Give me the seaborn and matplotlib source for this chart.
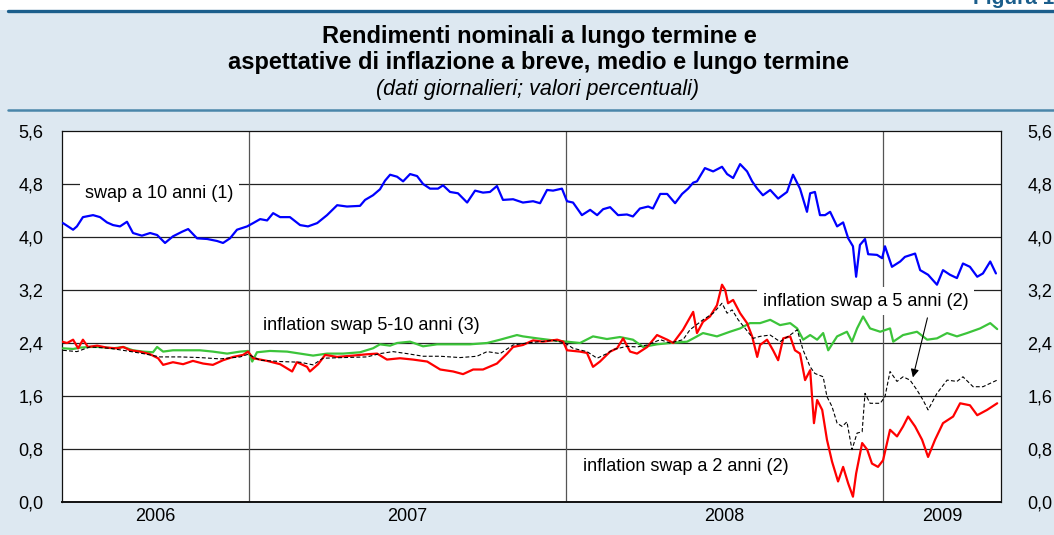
import matplotlib
matplotlib.use('Agg')
import matplotlib.pyplot as plt
from matplotlib.lines import Line2D
from matplotlib.patches import Rectangle
import numpy as np
import pandas as pd
import seaborn as sns

sns.set_style('white')
plt.rcParams['font.family'] = ['Liberation Sans', 'DejaVu Sans']
plt.rcParams['text.color'] = 'black'
plt.rcParams['xtick.color'] = 'black'
plt.rcParams['ytick.color'] = 'black'

# time expressed as decimal year, values in percent
t_swap10 = [2006.413, 2006.445, 2006.457, 2006.476, 2006.508, 2006.530, 2006.552, 2006.571, 2006.593, 2006.615,
            2006.634, 2006.662, 2006.688, 2006.710, 2006.735, 2006.760, 2006.789, 2006.808, 2006.836, 2006.868,
            2006.899, 2006.918, 2006.940, 2006.962, 2006.994, 2007.013, 2007.035, 2007.057, 2007.076, 2007.098,
            2007.129, 2007.161, 2007.186, 2007.215, 2007.246, 2007.278, 2007.309, 2007.350, 2007.366, 2007.391,
            2007.413, 2007.429, 2007.445, 2007.467, 2007.486, 2007.508, 2007.530, 2007.549, 2007.571, 2007.596,
            2007.612, 2007.634, 2007.659, 2007.688, 2007.713, 2007.738, 2007.760, 2007.782, 2007.801, 2007.833,
            2007.864, 2007.896, 2007.918, 2007.940, 2007.959, 2007.987, 2008.003, 2008.022, 2008.050, 2008.076,
            2008.098, 2008.117, 2008.139, 2008.164, 2008.192, 2008.211, 2008.233, 2008.259, 2008.274, 2008.297,
            2008.319, 2008.344, 2008.366, 2008.385, 2008.401, 2008.413, 2008.438, 2008.464, 2008.492, 2008.508,
            2008.527, 2008.549, 2008.571, 2008.587, 2008.603, 2008.621, 2008.644, 2008.669, 2008.697, 2008.716,
            2008.738, 2008.760, 2008.770, 2008.785, 2008.801, 2008.817, 2008.833, 2008.855, 2008.874, 2008.890,
            2008.905, 2008.915, 2008.927, 2008.943, 2008.953, 2008.981, 2008.997, 2009.006, 2009.028, 2009.054,
            2009.069, 2009.101, 2009.117, 2009.142, 2009.170, 2009.189, 2009.211, 2009.233, 2009.252, 2009.274,
            2009.297, 2009.315, 2009.338, 2009.356]
swap10 = [4.21, 4.11, 4.16, 4.30, 4.33, 4.30, 4.22, 4.18, 4.16, 4.23,
          4.06, 4.02, 4.06, 4.03, 3.91, 4.01, 4.08, 4.12, 3.98, 3.97,
          3.94, 3.91, 3.98, 4.11, 4.16, 4.21, 4.27, 4.25, 4.36, 4.30,
          4.30, 4.18, 4.16, 4.21, 4.33, 4.48, 4.46, 4.47, 4.56, 4.63,
          4.72, 4.85, 4.94, 4.91, 4.84, 4.95, 4.92, 4.80, 4.73, 4.73,
          4.78, 4.68, 4.66, 4.52, 4.70, 4.67, 4.68, 4.77, 4.56, 4.57,
          4.52, 4.54, 4.51, 4.71, 4.70, 4.73, 4.54, 4.52, 4.33, 4.41,
          4.33, 4.42, 4.45, 4.33, 4.34, 4.31, 4.43, 4.46, 4.43, 4.65,
          4.65, 4.51, 4.65, 4.73, 4.82, 4.84, 5.04, 4.99, 5.06, 4.95,
          4.89, 5.10, 4.99, 4.84, 4.73, 4.63, 4.71, 4.58, 4.68, 4.94,
          4.73, 4.38, 4.66, 4.68, 4.33, 4.33, 4.38, 4.16, 4.22, 3.98,
          3.86, 3.40, 3.88, 3.97, 3.74, 3.73, 3.68, 3.86, 3.55, 3.63,
          3.70, 3.75, 3.50, 3.43, 3.28, 3.50, 3.43, 3.38, 3.60, 3.55,
          3.40, 3.45, 3.63, 3.45]

t_infl510 = [2006.413, 2006.445, 2006.467, 2006.498, 2006.530, 2006.571, 2006.603, 2006.634, 2006.666, 2006.697,
             2006.710, 2006.729, 2006.760, 2006.804, 2006.845, 2006.886, 2006.931, 2006.972, 2006.997, 2007.010,
             2007.025, 2007.066, 2007.120, 2007.161, 2007.202, 2007.246, 2007.297, 2007.350, 2007.391, 2007.413,
             2007.445, 2007.467, 2007.508, 2007.549, 2007.593, 2007.644, 2007.697, 2007.751, 2007.792, 2007.845,
             2007.864, 2007.909, 2007.959, 2008.003, 2008.044, 2008.085, 2008.129, 2008.170, 2008.211, 2008.243,
             2008.287, 2008.328, 2008.382, 2008.413, 2008.432, 2008.476, 2008.517, 2008.549, 2008.580, 2008.612,
             2008.644, 2008.675, 2008.707, 2008.729, 2008.748, 2008.770, 2008.792, 2008.811, 2008.827, 2008.855,
             2008.886, 2008.902, 2008.918, 2008.937, 2008.959, 2008.991, 2009.022, 2009.032, 2009.063, 2009.107,
             2009.139, 2009.170, 2009.202, 2009.233, 2009.265, 2009.306, 2009.338, 2009.360]
infl510 = [2.32, 2.31, 2.33, 2.34, 2.34, 2.32, 2.34, 2.29, 2.27, 2.26,
           2.34, 2.27, 2.29, 2.29, 2.29, 2.27, 2.24, 2.27, 2.28, 2.12,
           2.26, 2.28, 2.27, 2.24, 2.21, 2.24, 2.24, 2.26, 2.32, 2.38,
           2.36, 2.40, 2.42, 2.35, 2.38, 2.38, 2.38, 2.40, 2.45, 2.52,
           2.50, 2.47, 2.44, 2.42, 2.40, 2.50, 2.46, 2.49, 2.45, 2.34,
           2.38, 2.40, 2.42, 2.50, 2.55, 2.50, 2.57, 2.62, 2.70, 2.70,
           2.75, 2.67, 2.70, 2.62, 2.45, 2.52, 2.45, 2.55, 2.29, 2.50,
           2.57, 2.42, 2.62, 2.80, 2.62, 2.57, 2.62, 2.42, 2.52, 2.57,
           2.45, 2.47, 2.55, 2.50, 2.55, 2.62, 2.70, 2.61]

t_infl2 = [2006.410, 2006.426, 2006.445, 2006.461, 2006.476, 2006.492, 2006.521, 2006.552, 2006.584, 2006.603,
           2006.625, 2006.656, 2006.688, 2006.713, 2006.729, 2006.760, 2006.792, 2006.823, 2006.855, 2006.886,
           2006.918, 2006.950, 2006.981, 2006.997, 2007.013, 2007.057, 2007.098, 2007.136, 2007.151, 2007.183,
           2007.192, 2007.218, 2007.240, 2007.278, 2007.328, 2007.372, 2007.404, 2007.435, 2007.476, 2007.517,
           2007.562, 2007.603, 2007.644, 2007.675, 2007.707, 2007.738, 2007.782, 2007.814, 2007.833, 2007.864,
           2007.896, 2007.927, 2007.972, 2007.991, 2008.003, 2008.044, 2008.066, 2008.085, 2008.107, 2008.139,
           2008.161, 2008.180, 2008.202, 2008.224, 2008.256, 2008.287, 2008.319, 2008.338, 2008.369, 2008.401,
           2008.413, 2008.432, 2008.454, 2008.476, 2008.492, 2008.502, 2008.511, 2008.527, 2008.549, 2008.571,
           2008.587, 2008.603, 2008.612, 2008.634, 2008.653, 2008.669, 2008.685, 2008.707, 2008.722, 2008.738,
           2008.754, 2008.770, 2008.782, 2008.792, 2008.808, 2008.823, 2008.839, 2008.858, 2008.874, 2008.890,
           2008.905, 2008.915, 2008.934, 2008.950, 2008.965, 2008.984, 2009.000, 2009.022, 2009.044, 2009.063,
           2009.079, 2009.101, 2009.123, 2009.142, 2009.164, 2009.189, 2009.221, 2009.243, 2009.274, 2009.297,
           2009.328, 2009.360]
infl2 = [2.42, 2.40, 2.45, 2.32, 2.45, 2.34, 2.36, 2.33, 2.32, 2.34,
         2.29, 2.27, 2.23, 2.17, 2.07, 2.11, 2.08, 2.13, 2.09, 2.07,
         2.14, 2.19, 2.22, 2.27, 2.17, 2.13, 2.08, 1.97, 2.11, 2.04,
         1.97, 2.08, 2.22, 2.19, 2.21, 2.23, 2.24, 2.15, 2.17, 2.15,
         2.12, 2.00, 1.97, 1.93, 2.00, 2.00, 2.09, 2.24, 2.34, 2.37,
         2.44, 2.42, 2.45, 2.42, 2.29, 2.27, 2.25, 2.04, 2.12, 2.27,
         2.32, 2.47, 2.27, 2.24, 2.34, 2.52, 2.45, 2.40, 2.60, 2.87,
         2.55, 2.72, 2.80, 2.97, 3.28, 3.20, 3.00, 3.05, 2.85, 2.70,
         2.50, 2.19, 2.37, 2.45, 2.29, 2.14, 2.47, 2.50, 2.29, 2.24,
         1.84, 1.99, 1.19, 1.54, 1.39, 0.94, 0.61, 0.31, 0.53, 0.28,
         0.08, 0.43, 0.89, 0.79, 0.58, 0.53, 0.63, 1.09, 0.99, 1.14,
         1.29, 1.14, 0.94, 0.68, 0.94, 1.19, 1.29, 1.49, 1.46, 1.31,
         1.39, 1.49]

t_infl5 = [2006.413, 2006.457, 2006.498, 2006.562, 2006.615, 2006.666, 2006.719, 2006.782, 2006.845, 2006.909,
           2006.972, 2006.997, 2007.035, 2007.098, 2007.161, 2007.202, 2007.233, 2007.297, 2007.372, 2007.413,
           2007.454, 2007.498, 2007.549, 2007.603, 2007.666, 2007.719, 2007.751, 2007.792, 2007.833, 2007.877,
           2007.918, 2007.959, 2007.997, 2008.022, 2008.066, 2008.098, 2008.129, 2008.148, 2008.192, 2008.224,
           2008.256, 2008.297, 2008.328, 2008.369, 2008.391, 2008.432, 2008.464, 2008.492, 2008.508, 2008.524,
           2008.543, 2008.565, 2008.590, 2008.612, 2008.644, 2008.675, 2008.707, 2008.729, 2008.748, 2008.770,
           2008.785, 2008.811, 2008.823, 2008.839, 2008.855, 2008.871, 2008.886, 2008.902, 2008.918, 2008.934,
           2008.943, 2008.959, 2008.991, 2009.006, 2009.022, 2009.044, 2009.063, 2009.085, 2009.107, 2009.126,
           2009.142, 2009.170, 2009.202, 2009.233, 2009.252, 2009.284, 2009.315, 2009.360]
infl5 = [2.29, 2.27, 2.34, 2.32, 2.28, 2.24, 2.19, 2.19, 2.18, 2.16,
         2.19, 2.23, 2.14, 2.12, 2.11, 2.07, 2.17, 2.18, 2.19, 2.24,
         2.27, 2.24, 2.20, 2.20, 2.18, 2.20, 2.27, 2.24, 2.37, 2.40,
         2.42, 2.44, 2.40, 2.32, 2.27, 2.17, 2.24, 2.30, 2.35, 2.34,
         2.37, 2.45, 2.40, 2.45, 2.60, 2.75, 2.85, 3.00, 2.85, 2.90,
         2.75, 2.62, 2.47, 2.50, 2.52, 2.42, 2.52, 2.60, 2.29, 2.04,
         1.94, 1.89, 1.59, 1.44, 1.19, 1.14, 1.21, 0.79, 1.04, 1.06,
         1.64, 1.49, 1.49, 1.59, 1.97, 1.82, 1.89, 1.84, 1.69, 1.54,
         1.39, 1.64, 1.84, 1.82, 1.89, 1.74, 1.74, 1.84]

years = [2006, 2007, 2008, 2009]
y_ticks = [0.0, 0.8, 1.6, 2.4, 3.2, 4.0, 4.8, 5.6]
x_min, x_max = 2006.41, 2009.372

BG = '#dde8f1'
TITLE_BLUE = '#1b5e8c'

fig = plt.figure(figsize=(10.54, 5.35), dpi=100, facecolor=BG)

# header strip
fig.add_artist(Rectangle((0, 1 - 10 / 535), 1, 10 / 535, transform=fig.transFigure,
                         facecolor='white', edgecolor='none', zorder=0))
fig.add_artist(Line2D([8 / 1054, 1], [1 - 11 / 535] * 2, transform=fig.transFigure,
                      color=TITLE_BLUE, lw=2.4))
fig.add_artist(Line2D([8 / 1054, 1], [1 - 110 / 535] * 2, transform=fig.transFigure,
                      color='#4a86aa', lw=1.8))
fig.text(1.0, 1.0 + 2 / 535, 'Figura 1', ha='right', va='center', fontsize=15,
         fontweight='bold', color=TITLE_BLUE)

fig.text(539 / 1054, 1 - 36 / 535, 'Rendimenti nominali a lungo termine e',
         ha='center', va='center', fontsize=17, fontweight='bold')
fig.text(539 / 1054, 1 - 62 / 535, 'aspettative di inflazione a breve, medio e lungo termine',
         ha='center', va='center', fontsize=17, fontweight='bold')
fig.text(537 / 1054, 1 - 89 / 535, '(dati giornalieri; valori percentuali)',
         ha='center', va='center', fontsize=15.5, style='italic')

ax = fig.add_axes([62 / 1054, 1 - 502 / 535, (1001 - 62) / 1054, (502 - 131) / 535])
ax.set_facecolor('white')

# grid
for v in y_ticks[1:-1]:
    ax.axhline(v, color='#222222', lw=0.9, zorder=1)
for yr in years[1:]:
    ax.axvline(yr, color='#555555', lw=0.9, zorder=1)

sns.lineplot(x=t_swap10, y=swap10, ax=ax, color='#0000ff', lw=1.6, estimator=None, sort=False, zorder=4)
sns.lineplot(x=t_infl510, y=infl510, ax=ax, color='#3cc43a', lw=1.6, estimator=None, sort=False, zorder=4)
sns.lineplot(x=t_infl2, y=infl2, ax=ax, color='#ff0000', lw=1.6, estimator=None, sort=False, zorder=5)
sns.lineplot(x=t_infl5, y=infl5, ax=ax, color='black', lw=0.8, estimator=None, sort=False, zorder=6,
             linestyle=(0, (3.5, 2)))

ax.set_xlim(x_min, x_max)
ax.set_ylim(0, 5.6)
ax.set_xlabel('')
ax.set_ylabel('')

box = dict(facecolor='white', edgecolor='none', pad=4)
ax.text(2006.483, 4.66, 'swap a 10 anni (1)', fontsize=13, va='center', ha='left', bbox=box, zorder=2)
ax.text(2007.044, 2.67, 'inflation swap 5-10 anni (3)', fontsize=13, va='center', ha='left', bbox=box, zorder=2)
ax.text(2008.621, 3.03, 'inflation swap a 5 anni (2)', fontsize=13, va='center', ha='left', bbox=box, zorder=2)
ax.text(2008.054, 0.53, 'inflation swap a 2 anni (2)', fontsize=13, va='center', ha='left', bbox=box, zorder=2)
ax.annotate('', xy=(2009.092, 1.84), xytext=(2009.142, 2.82),
            arrowprops=dict(arrowstyle='-|>', color='black', lw=0.8, mutation_scale=12), zorder=7)

# y axis: labels on both sides
fmt = [f'{v:.1f}'.replace('.', ',') for v in y_ticks]
ax.set_yticks(y_ticks)
ax.set_yticklabels(fmt)
ax.tick_params(axis='y', left=False, right=False, labelsize=13, pad=10)
sec = ax.secondary_yaxis('right')
sec.set_yticks(y_ticks)
sec.set_yticklabels(fmt)
sec.tick_params(axis='y', length=0, labelsize=13, pad=19)
sec.spines['right'].set_visible(False)

# x axis: monthly minor ticks, long ticks mid-year, year labels centred on visible span
months = [y + m / 12 for y in years for m in range(12) if x_min < y + m / 12 < x_max]
mid_years = [y + 0.5 for y in years if x_min < y + 0.5 < x_max]
ax.set_xticks(mid_years)
ax.set_xticklabels([])
ax.set_xticks(months, minor=True)
ax.tick_params(axis='x', which='major', direction='in', length=9.5, width=0.8, color='#222222')
ax.tick_params(axis='x', which='minor', direction='in', length=5, width=0.8, color='#222222')
label_pos = [(max(y, x_min) + min(y + 1, x_max)) / 2 for y in years]
secx = ax.secondary_xaxis('bottom')
secx.set_xticks(label_pos)
secx.set_xticklabels([str(y) for y in years])
secx.tick_params(axis='x', length=0, labelsize=13, pad=4)
secx.spines['bottom'].set_visible(False)

for s in ax.spines.values():
    s.set_visible(True)
    s.set_color('#111111')
    s.set_linewidth(0.9)
ax.spines['bottom'].set_linewidth(1.4)

fig.savefig('out.png', dpi=100, facecolor=BG)
